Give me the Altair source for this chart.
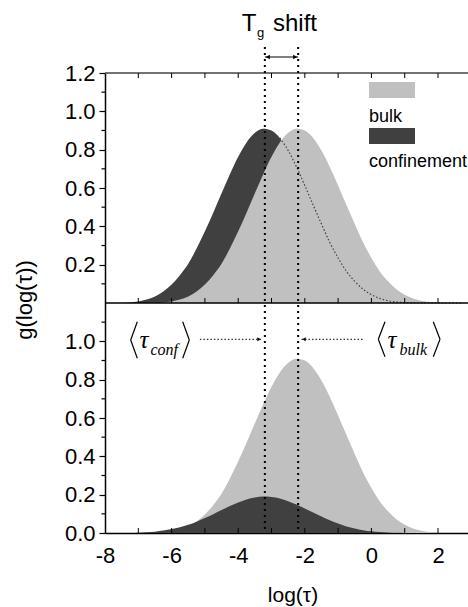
import altair as alt
import pandas as pd

FONT = "Liberation Sans"
SERIF = "Liberation Serif"
LIGHT = "#c0c0c0"
DARK = "#404040"

# distribution of relaxation times g(log tau)
log_tau = [-7.5, -7.25, -7.0, -6.75, -6.5, -6.25, -6.0, -5.75, -5.5, -5.25,
           -5.0, -4.75, -4.5, -4.25, -4.0, -3.75, -3.5, -3.25, -3.0, -2.75,
           -2.5, -2.25, -2.0, -1.75, -1.5, -1.25, -1.0, -0.75, -0.5, -0.25,
           0.0, 0.25, 0.5, 0.75, 1.0, 1.25, 1.5, 1.75, 2.0, 2.25, 2.5, 2.75]
g_bulk = [0.0, 0.0, 0.0, 0.0003, 0.001, 0.003, 0.008, 0.018, 0.034, 0.060,
          0.097, 0.145, 0.205, 0.284, 0.374, 0.471, 0.572, 0.672, 0.763, 0.838,
          0.888, 0.909, 0.900, 0.861, 0.796, 0.710, 0.613, 0.511, 0.412, 0.316,
          0.235, 0.165, 0.113, 0.072, 0.043, 0.024, 0.012, 0.005, 0.002, 0.0005, 0.0, 0.0]
g_conf_top = [0.001, 0.003, 0.008, 0.018, 0.034, 0.060, 0.097, 0.145, 0.205, 0.284,
              0.374, 0.471, 0.572, 0.672, 0.763, 0.838, 0.888, 0.909, 0.900, 0.861,
              0.796, 0.710, 0.613, 0.511, 0.412, 0.316, 0.235, 0.165, 0.113, 0.072,
              0.043, 0.024, 0.012, 0.005, 0.002, 0.0005, 0.0, 0.0, 0.0, 0.0, 0.0, 0.0]
g_conf_bottom = [0.0002, 0.0006, 0.0017, 0.0038, 0.0071, 0.0125, 0.0203, 0.0303, 0.0428, 0.0593,
                 0.0781, 0.0983, 0.1194, 0.1403, 0.1593, 0.1750, 0.1854, 0.1898, 0.1879, 0.1798,
                 0.1662, 0.1482, 0.1280, 0.1067, 0.0860, 0.0660, 0.0491, 0.0345, 0.0236, 0.0150,
                 0.0090, 0.0050, 0.0025, 0.0010, 0.0004, 0.0001, 0.0, 0.0, 0.0, 0.0, 0.0, 0.0]

# mean log relaxation times (confined, bulk)
mean_log_tau = [-3.2, -2.2]

x_labels = [-8, -6, -4, -2, 0, 2]
x_minor = [-7, -6, -5, -4, -3, -2, -1, 0, 1, 2]
y_major = [0.0, 0.2, 0.4, 0.6, 0.8, 1.0, 1.4, 1.6, 1.8, 2.0, 2.2, 2.4]
y_minor = [0.1, 0.3, 0.5, 0.7, 0.9, 1.1, 1.3, 1.5, 1.7, 1.9, 2.1, 2.3]

PANEL = 1.2  # the upper panel sits on top of the lower one

W, H = 363, 460

df = pd.DataFrame({"x": log_tau, "bulk": g_bulk, "conf_top": g_conf_top,
                   "conf_bottom": g_conf_bottom})
one = pd.DataFrame({"a": [0]})

x_scale = alt.Scale(domain=[-8, 2.9], nice=False, zero=False)
y_scale = alt.Scale(domain=[0, 2.4], nice=False, zero=False)

x_axis = alt.Axis(values=x_labels, ticks=False, labelPadding=12, labelFontSize=22,
                  labelFont=FONT, labelColor="black", domainColor="black",
                  domainWidth=1.5, title=None, grid=False, labelFlush=False,
                  labelOverlap=False,
                  labelExpr="datum.value < 0 ? '-' + abs(datum.value) : '' + datum.value")
y_axis = alt.Axis(values=y_major, tickSize=6, tickColor="black", tickWidth=1.2,
                  labelPadding=4, labelFontSize=22, labelFont=FONT, labelColor="black",
                  domainColor="black", domainWidth=1.5, title=None, grid=False,
                  labelFlush=False, labelOverlap=False,
                  labelExpr="datum.value > 1.21 ? format(datum.value - 1.2, '.1f') : format(datum.value, '.1f')")


def X(field="x"):
    return alt.X(f"{field}:Q", scale=x_scale, axis=x_axis)


def Y(field):
    return alt.Y(f"{field}:Q", scale=y_scale, axis=y_axis)


base = alt.Chart(df)

top_conf = base.transform_calculate(
    top=f"datum.conf_top + {PANEL}", base=f"{PANEL}"
).mark_area(color=DARK, interpolate="monotone").encode(x=X(), y=Y("top"), y2="base:Q")

top_bulk = base.transform_calculate(
    top=f"datum.bulk + {PANEL}", base=f"{PANEL}"
).mark_area(color=LIGHT, interpolate="monotone").encode(x=X(), y=Y("top"), y2="base:Q")

top_conf_tail = base.transform_filter("datum.x >= -2.75").transform_calculate(
    top=f"datum.conf_top + {PANEL}"
).mark_line(color=DARK, strokeDash=[1.5, 2], strokeWidth=1.2,
            interpolate="monotone").encode(x=X(), y=Y("top"))

bottom_bulk = base.mark_area(color=LIGHT, interpolate="monotone").encode(
    x=X(), y=Y("bulk"))
bottom_conf = base.mark_area(color=DARK, interpolate="monotone").encode(
    x=X(), y=Y("conf_bottom"))

layers = [top_conf, top_bulk, top_conf_tail, bottom_bulk, bottom_conf]

# frame lines: top edge and the boundary between panels
layers.append(alt.Chart(one).mark_rule(color="#444444", strokeWidth=1.5).encode(
    x=alt.value(0), x2=alt.value(W), y=alt.value(0)))
layers.append(alt.Chart(one).mark_rule(color="black", strokeWidth=1.5).encode(
    x=alt.value(0), x2=alt.value(W), y=alt.value(H / 2)))

# inward x ticks on the three horizontal lines
tick_df = pd.DataFrame({"x": x_minor})
for y0, y1 in [(H, H - 5), (H / 2, H / 2 - 5), (0, 5)]:
    layers.append(alt.Chart(tick_df).mark_rule(color="black", strokeWidth=1).encode(
        x=X(), y=alt.value(y0), y2=alt.value(y1)))

# minor y ticks
layers.append(alt.Chart(pd.DataFrame({"y": y_minor})).mark_rule(
    color="black", strokeWidth=1.2).encode(
    y=Y("y"), x=alt.value(-3.5), x2=alt.value(0)))

# dotted markers at the mean relaxation times
layers.append(alt.Chart(pd.DataFrame({"x": mean_log_tau})).mark_rule(
    color="black", strokeWidth=2, strokeDash=[2, 4]).encode(
    x=X(), y=alt.value(-26), y2=alt.value(H)))

# Tg shift arrow
shift_df = pd.DataFrame({"x": [mean_log_tau[0]], "x2": [mean_log_tau[1]]})
layers.append(alt.Chart(shift_df).mark_rule(color="black", strokeWidth=1.2).encode(
    x=X(), x2="x2:Q", y=alt.value(-16)))
layers.append(alt.Chart(pd.DataFrame({"x": [mean_log_tau[0]]})).mark_point(
    shape="triangle-left", filled=True, color="black", size=22, opacity=1, xOffset=3).encode(
    x=X(), y=alt.value(-16)))
layers.append(alt.Chart(pd.DataFrame({"x": [mean_log_tau[1]]})).mark_point(
    shape="triangle-right", filled=True, color="black", size=22, opacity=1, xOffset=-3).encode(
    x=X(), y=alt.value(-16)))

# dotted pointers from the <tau> labels
ANN_Y = 266.3
conf_arrow = pd.DataFrame({"x": [-5.15], "x2": [-3.3]})
bulk_arrow = pd.DataFrame({"x": [-2.1], "x2": [-0.25]})
for d in (conf_arrow, bulk_arrow):
    layers.append(alt.Chart(d).mark_rule(color="black", strokeWidth=1, strokeDash=[1.5, 2]).encode(
        x=X(), x2="x2:Q", y=alt.value(ANN_Y)))
layers.append(alt.Chart(pd.DataFrame({"x": [-3.3]})).mark_point(
    shape="triangle-right", filled=True, color="black", size=16, opacity=1, xOffset=-2.5).encode(
    x=X(), y=alt.value(ANN_Y)))
layers.append(alt.Chart(pd.DataFrame({"x": [-2.1]})).mark_point(
    shape="triangle-left", filled=True, color="black", size=16, opacity=1, xOffset=2.5).encode(
    x=X(), y=alt.value(ANN_Y)))

# angle brackets around the tau labels
brackets = [
    [(32.3, 248.7), (25.7, 267.0), (32.3, 285.3)],
    [(77.7, 248.7), (84.3, 267.0), (77.7, 285.3)],
    [(280.0, 248.7), (273.3, 266.2), (280.0, 283.7)],
    [(328.3, 248.7), (335.0, 266.2), (328.3, 283.7)],
]
for pts in brackets:
    for (xa, ya), (xb, yb) in zip(pts[:-1], pts[1:]):
        layers.append(alt.Chart(one).mark_rule(color="black", strokeWidth=1.2).encode(
            x=alt.value(xa), x2=alt.value(xb), y=alt.value(ya), y2=alt.value(yb)))


def label(text, x, y, size, font=FONT, style="normal", align="left",
          baseline="alphabetic", angle=0):
    return alt.Chart(one).mark_text(
        text=text, font=font, fontSize=size, fontStyle=style, align=align,
        baseline=baseline, angle=angle, color="black").encode(
        x=alt.value(x), y=alt.value(y))


layers += [
    label("τ", 34.5, 275.3, 25, font=SERIF, style="italic"),
    label("conf", 45.5, 281.5, 16, font=SERIF, style="italic"),
    label("τ", 282.5, 275.3, 25, font=SERIF, style="italic"),
    label("bulk", 294.5, 281.5, 16, font=SERIF, style="italic"),
    label("T", 136.7, -42, 24),
    label("g", 152, -36, 13),
    label("shift", 168, -42, 24),
    label("bulk", 264, 48.5, 18),
    label("confinement", 264, 93.7, 18),
    label("log(τ)", 188, 529, 21, align="center"),
    label("g(log(τ))", -80, 227, 22, align="center", baseline="middle", angle=270),
]

# legend swatches
layers.append(alt.Chart(one).mark_rect(color=LIGHT).encode(
    x=alt.value(264), x2=alt.value(310), y=alt.value(9), y2=alt.value(25)))
layers.append(alt.Chart(one).mark_rect(color=DARK).encode(
    x=alt.value(264), x2=alt.value(310), y=alt.value(55), y2=alt.value(71)))

chart = alt.layer(*layers).properties(
    width=W, height=H,
    padding={"left": 105, "top": 73, "right": 0, "bottom": 74},
    autosize=alt.AutoSizeParams(type="none"),
    background="white",
).configure_view(stroke=None)

chart.save("out.html", embed_options={"renderer": "svg", "actions": False})
